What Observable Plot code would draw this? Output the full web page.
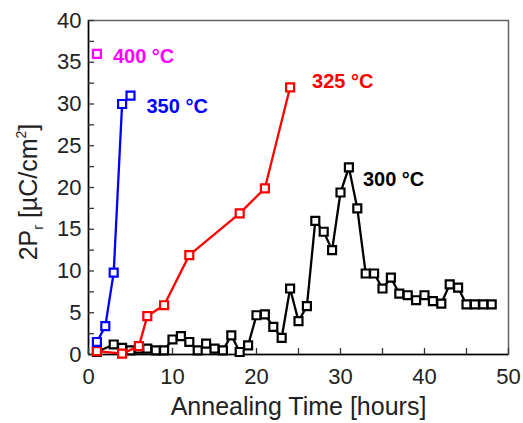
<!DOCTYPE html>
<html><head><meta charset="utf-8">
<script src="https://cdn.jsdelivr.net/npm/d3@7"></script>
<script src="https://cdn.jsdelivr.net/npm/@observablehq/plot@0.6"></script>
<style>body{margin:0;background:#fff}</style>
</head><body><div id="chart"></div>
<script>
// Annealing time [hours] and 2Pr [µC/cm²] per annealing temperature
const t400 = [1];
const v400 = [36];
const t350 = [1, 2, 3, 4, 5];
const v350 = [1.5, 3.4, 9.8, 30, 31];
const t325 = [1, 4, 6, 7, 9, 12, 18, 21, 24];
const v325 = [0.4, 0.1, 1.0, 4.6, 5.9, 11.9, 16.9, 19.9, 32];
const t300 = [1, 3, 4, 5, 6, 7, 8, 9, 10, 11, 12, 13, 14, 15, 16, 17, 18, 19, 20, 21, 22, 23, 24, 25, 26, 27, 28, 29, 30, 31, 32, 33, 34, 35, 36, 37, 38, 39, 40, 41, 42, 43, 44, 45, 46, 47, 48];
const v300 = [0.3, 1.2, 0.8, 0.5, 0.7, 0.7, 0.5, 0.5, 1.8, 2.2, 1.5, 0.5, 1.3, 0.7, 0.5, 2.3, 0.3, 1.1, 4.7, 4.8, 3.3, 2.0, 7.9, 4.0, 5.8, 16.0, 14.7, 12.5, 19.4, 22.4, 17.5, 9.7, 9.7, 7.9, 9.2, 7.3, 7.1, 6.5, 7.1, 6.4, 6.1, 8.4, 8.0, 6.0, 6.0, 6.0, 6.0];

const seriesNames = ["300 °C", "325 °C", "350 °C", "400 °C"];
const seriesColors = ["#000000", "#ff0000", "#0000ff", "#ff00ff"];

const xMajor = [0, 10, 20, 30, 40, 50];
const xTicks = [0, 5, 10, 15, 20, 25, 30, 35, 40, 45, 50];
const yMajor = [0, 5, 10, 15, 20, 25, 30, 35, 40];
const yTicks = [0, 2.5, 5, 7.5, 10, 12.5, 15, 17.5, 20, 22.5, 25, 27.5, 30, 32.5, 35, 37.5, 40];

const xLabel = "Annealing Time [hours]";

const mk = (t, v) => t.map((d, i) => ({t: d, v: v[i]}));
const series = [mk(t300, v300), mk(t325, v325), mk(t350, v350), mk(t400, v400)];
const labelOffsets = [[14, 12], [22, -6], [16, 11], [16, 3]];
const labelAnchors = [series[0][29], series[1][series[1].length - 1], series[2][series[2].length - 1], series[3][0]];

const marks = [
  Plot.frame({stroke: "#606060", strokeWidth: 1.5}),
  Plot.ruleX([0], {stroke: "#000", strokeWidth: 1.5}),
  Plot.ruleY([0], {stroke: "#000", strokeWidth: 1.5}),
  Plot.axisX(xMajor, {tickSize: 0, tickPadding: 14, fontSize: 22, label: null, fill: "#222"}),
  Plot.axisX(xTicks, {tickSize: 6, dy: -6, fill: "none", stroke: "#333", strokeWidth: 1.3, label: null}),
  Plot.axisY(yMajor, {tickSize: 0, tickPadding: 7, fontSize: 22, label: null, fill: "#222"}),
  Plot.axisY(yTicks, {tickSize: 6, dx: 6, fill: "none", stroke: "#333", strokeWidth: 1.3, label: null}),
  Plot.text([xLabel], {frameAnchor: "bottom", dy: 60, fontSize: 25, fill: "#222", text: d => d})
];
series.forEach((s, i) => {
  marks.push(Plot.line(s, {x: "t", y: "v", stroke: seriesColors[i], strokeWidth: 2.3}));
  marks.push(Plot.dot(s, {x: "t", y: "v", symbol: "square", r: 4.5, fill: "#fff", stroke: seriesColors[i], strokeWidth: 2.2}));
});
seriesNames.forEach((name, i) => {
  marks.push(Plot.text([labelAnchors[i]], {x: "t", y: "v", text: () => name, dx: labelOffsets[i][0], dy: labelOffsets[i][1],
    textAnchor: "start", fontWeight: "bold", fontSize: 20, fill: seriesColors[i]}));
});

const plot = Plot.plot({
  width: 523, height: 423,
  marginLeft: 88, marginRight: 15, marginTop: 20, marginBottom: 69,
  x: {domain: [0, 50]},
  y: {domain: [0, 40]},
  style: {fontFamily: "'Liberation Sans', Arial, sans-serif", background: "#fff", overflow: "visible"},
  marks
});

// y-axis label with subscript and superscript
const yl = d3.select(plot).append("text")
  .attr("transform", "translate(37,192) rotate(-90)")
  .attr("text-anchor", "middle")
  .attr("font-size", 25)
  .attr("fill", "#222")
  .attr("font-family", "'Liberation Sans', Arial, sans-serif");
yl.append("tspan").text("2P");
yl.append("tspan").attr("font-size", 14).attr("dy", 6).text("r");
yl.append("tspan").attr("dy", -6).text(" [µC/cm");
yl.append("tspan").attr("font-size", 14).attr("dy", -11).text("2");
yl.append("tspan").attr("dy", 11).text("]");

document.getElementById("chart").appendChild(plot);
</script>
</body></html>
